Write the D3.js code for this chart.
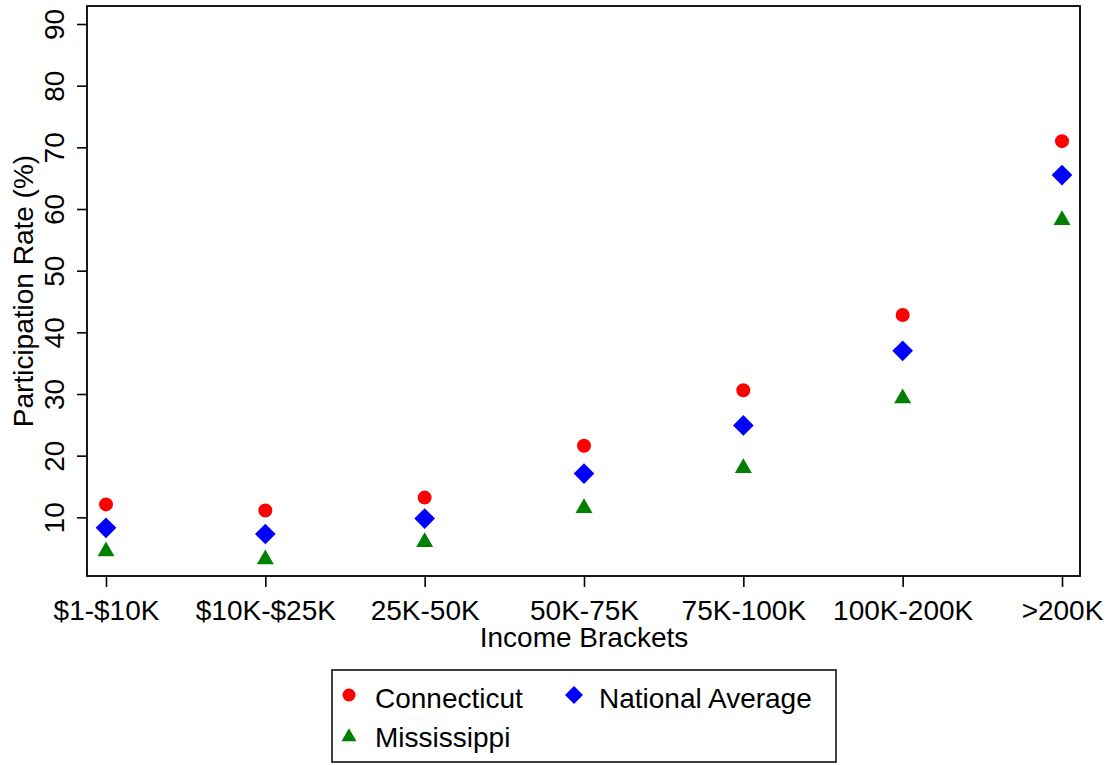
<!DOCTYPE html>
<html>
<head>
<meta charset="utf-8">
<script src="https://cdn.jsdelivr.net/npm/d3@7"></script>
<style>
  html, body { margin: 0; padding: 0; background: #fff; }
  svg text { font-family: "Liberation Sans", Arial, sans-serif; fill: #000; }
</style>
</head>
<body>
<svg id="chart" width="1116" height="765"></svg>
<script>
const categories = ["$1-$10K", "$10K-$25K", "25K-50K", "50K-75K", "75K-100K", "100K-200K", ">200K"];
const connecticut = [12.1, 11.1, 13.2, 21.6, 30.6, 42.8, 71.0];
const nationalAverage = [8.3, 7.3, 9.8, 17.1, 24.9, 37.0, 65.5];
const mississippi = [4.5, 3.2, 6.0, 11.5, 18.0, 29.3, 58.2];
const yTicks = [10, 20, 30, 40, 50, 60, 70, 80, 90];
const seriesNames = ["Connecticut", "National Average", "Mississippi"];

const svg = d3.select("#chart");
const frame = { left: 87, right: 1080, top: 6, bottom: 576 };

const x = d3.scalePoint().domain(categories).range([106, 1062]);
const y = d3.scaleLinear().domain([0, 90]).range([579, 24]);

// frame
svg.append("rect")
  .attr("x", frame.left).attr("y", frame.top)
  .attr("width", frame.right - frame.left).attr("height", frame.bottom - frame.top)
  .attr("fill", "none").attr("stroke", "#000").attr("stroke-width", 1.8);

// y axis
const yAxis = svg.append("g").attr("transform", `translate(${frame.left},0)`)
  .call(d3.axisLeft(y).tickValues(yTicks).tickSize(10).tickSizeOuter(0).tickFormat(d3.format("d")));
yAxis.select(".domain").remove();
yAxis.selectAll(".tick line").attr("stroke", "#000").attr("stroke-width", 1.6);
yAxis.selectAll(".tick text")
  .attr("font-size", 28)
  .attr("text-anchor", "middle")
  .attr("x", null).attr("dy", null)
  .attr("transform", "translate(-23,0) rotate(-90)")
  .attr("y", 0);

// x axis
const xAxis = svg.append("g").attr("transform", `translate(0,${frame.bottom})`)
  .call(d3.axisBottom(x).tickSize(11).tickSizeOuter(0));
xAxis.select(".domain").remove();
xAxis.selectAll(".tick line").attr("stroke", "#000").attr("stroke-width", 1.6);
xAxis.selectAll(".tick text")
  .attr("font-size", 28)
  .attr("dy", null)
  .attr("y", 44);

// axis titles
svg.append("text").attr("x", 584).attr("y", 647).attr("text-anchor", "middle")
  .attr("font-size", 28).text("Income Brackets");
svg.append("text").attr("transform", "translate(33,291) rotate(-90)").attr("text-anchor", "middle")
  .attr("font-size", 28).text("Participation Rate (%)");

// markers
const circleSym = d3.symbol().type(d3.symbolCircle).size(154);
const diamondSym = d3.symbol().type(d3.symbolSquare).size(214);
const triSym = d3.symbol().type(d3.symbolTriangle).size(125);

const plot = svg.append("g");
plot.selectAll(".ct").data(connecticut).join("path")
  .attr("d", circleSym)
  .attr("transform", (d, i) => `translate(${x(categories[i])},${y(d)})`)
  .attr("fill", "#ff0000");
plot.selectAll(".na").data(nationalAverage).join("path")
  .attr("d", diamondSym)
  .attr("transform", (d, i) => `translate(${x(categories[i])},${y(d)}) rotate(45)`)
  .attr("fill", "#0000ff");
plot.selectAll(".ms").data(mississippi).join("path")
  .attr("d", triSym)
  .attr("transform", (d, i) => `translate(${x(categories[i])},${y(d)})`)
  .attr("fill", "#008000");

// legend
const lg = svg.append("g");
lg.append("rect").attr("x", 332).attr("y", 670).attr("width", 504).attr("height", 92)
  .attr("fill", "none").attr("stroke", "#000").attr("stroke-width", 1.5);
lg.append("path").attr("d", d3.symbol().type(d3.symbolCircle).size(133)())
  .attr("transform", "translate(349,695)").attr("fill", "#ff0000");
lg.append("text").attr("x", 375).attr("y", 708).attr("font-size", 28).text(seriesNames[0]);
lg.append("path").attr("d", d3.symbol().type(d3.symbolSquare).size(162)())
  .attr("transform", "translate(574,695) rotate(45)").attr("fill", "#0000ff");
lg.append("text").attr("x", 599).attr("y", 708).attr("font-size", 28).text(seriesNames[1]);
lg.append("path").attr("d", d3.symbol().type(d3.symbolTriangle).size(97)())
  .attr("transform", "translate(349,737)").attr("fill", "#008000");
lg.append("text").attr("x", 375).attr("y", 747).attr("font-size", 28).text(seriesNames[2]);
</script>
</body>
</html>
